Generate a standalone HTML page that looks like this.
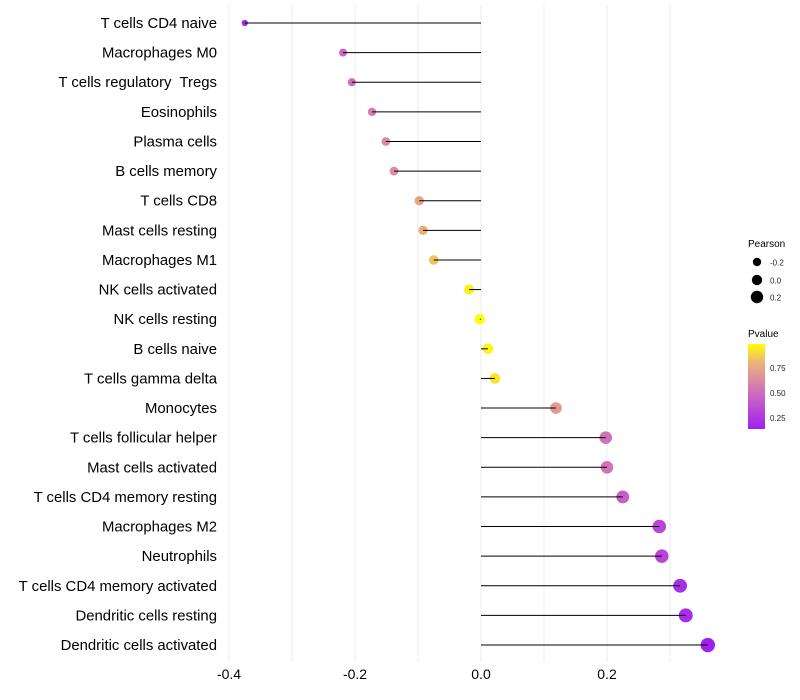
<!DOCTYPE html>
<html><head><meta charset="utf-8"><style>
body{margin:0;background:#fff;font-family:"Liberation Sans",sans-serif}
svg{display:block}
</style></head><body>
<svg id="chart" width="800" height="700">
<g id="grid"></g>
<g id="marks"></g>
<g id="labels"></g>
<g id="xticks"></g>
<g>
<text x="748" y="247" font-size="10" fill="#000">Pearson</text>
<circle cx="757" cy="262" r="4.2" fill="#000"/>
<text x="770" y="265.5" font-size="8" fill="#222">-0.2</text>
<circle cx="757" cy="280" r="5.2" fill="#000"/>
<text x="770" y="283.5" font-size="8" fill="#222">0.0</text>
<circle cx="757" cy="297" r="6.2" fill="#000"/>
<text x="770" y="300.5" font-size="8" fill="#222">0.2</text>
</g>
<g>
<text x="748" y="337" font-size="10" fill="#000">Pvalue</text>
<defs><linearGradient id="pg" x1="0" y1="1" x2="0" y2="0">
<stop offset="0" stop-color="#A020F0"/><stop offset="0.35" stop-color="#C65FC8"/><stop offset="0.62" stop-color="#E0929A"/><stop offset="0.8" stop-color="#EDB873"/><stop offset="1" stop-color="#FFFF00"/></linearGradient></defs>
<rect x="748" y="344" width="17" height="85" fill="url(#pg)"/>
<text x="770" y="371" font-size="8" fill="#222">0.75</text>
<text x="770" y="396" font-size="8" fill="#222">0.50</text>
<text x="770" y="421" font-size="8" fill="#222">0.25</text>
</g>
</svg>
<script>
const categories=["T cells CD4 naive","Macrophages M0","T cells regulatory  Tregs","Eosinophils","Plasma cells","B cells memory","T cells CD8","Mast cells resting","Macrophages M1","NK cells activated","NK cells resting","B cells naive","T cells gamma delta","Monocytes","T cells follicular helper","Mast cells activated","T cells CD4 memory resting","Macrophages M2","Neutrophils","T cells CD4 memory activated","Dendritic cells resting","Dendritic cells activated"];
const pearson=[-0.375,-0.219,-0.205,-0.173,-0.151,-0.138,-0.098,-0.092,-0.075,-0.019,-0.002,0.011,0.022,0.119,0.198,0.200,0.225,0.283,0.287,0.316,0.325,0.360];
const pvalues=[0.20,0.47,0.50,0.58,0.63,0.65,0.74,0.78,0.84,0.95,0.99,0.96,0.92,0.70,0.53,0.53,0.44,0.33,0.32,0.22,0.21,0.13];
const xTicks=[-0.4,-0.2,0.0,0.2];
const xMinor=[-0.3,-0.1,0.1,0.3];
const NS="http://www.w3.org/2000/svg";
const x=v=>481+v*630;
const y=i=>23+i*(645-23)/(categories.length-1);
const stops=[[0,[160,32,240]],[0.35,[198,95,200]],[0.62,[224,146,154]],[0.8,[237,184,115]],[1,[255,255,0]]];
function col(p){const t=Math.max(0,Math.min(1,(p-0.15)/(0.98-0.15)));
for(let k=1;k<stops.length;k++){if(t<=stops[k][0]){const a=stops[k-1],b=stops[k],f=(t-a[0])/(b[0]-a[0]);
return "rgb("+a[1].map((c,j)=>Math.round(c+(b[1][j]-c)*f)).join(",")+")";}}return "rgb(255,255,0)";}
function mk(tag,at,parent){const e=document.createElementNS(NS,tag);for(const k in at)e.setAttribute(k,at[k]);document.getElementById(parent).appendChild(e);return e;}
xTicks.concat(xMinor).forEach(v=>{const l=mk("line",{x1:x(v),x2:x(v),y1:5,y2:662,stroke:"#ececec","stroke-width":1},"grid");

});
xTicks.forEach(v=>{const t=mk("text",{x:x(v),y:679,"font-size":14,"text-anchor":"middle",fill:"#000"},"xticks");t.textContent=v.toFixed(1);

});
categories.forEach((c,i)=>{
const t=mk("text",{x:217,y:y(i)+5,"font-size":14.9,"text-anchor":"end",fill:"#000","xml:space":"preserve",style:"white-space:pre"},"labels");t.textContent=c;


const r=Math.max(1.5,5.2+5.5*pearson[i]);
const d=mk("circle",{cx:x(pearson[i]),cy:y(i),r:r,fill:col(pvalues[i])},"marks");


const l=mk("line",{x1:x(0),x2:x(pearson[i]),y1:y(i),y2:y(i),stroke:"#000","stroke-width":1},"marks");


});
</script>
</body></html>
